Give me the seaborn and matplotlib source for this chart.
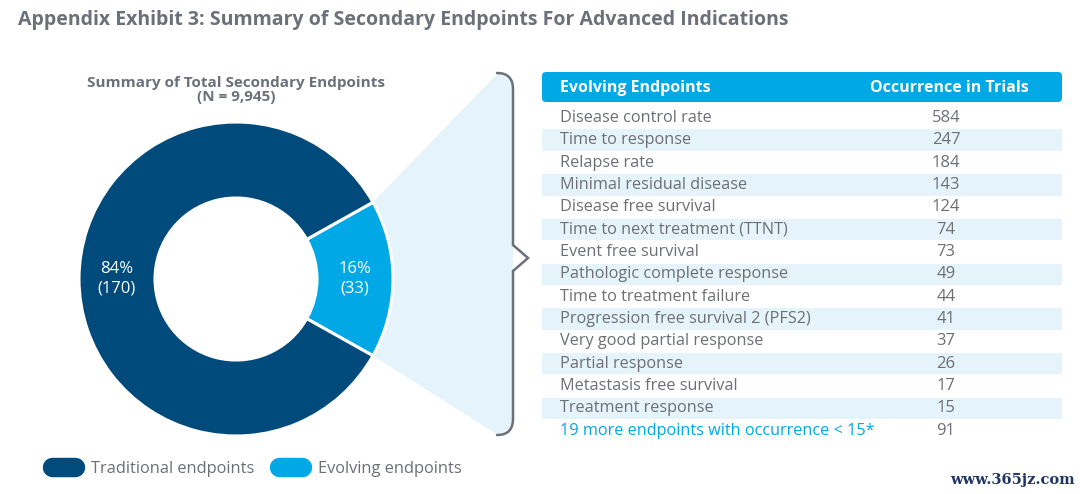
import numpy as np
import matplotlib
matplotlib.use("Agg")
import matplotlib.pyplot as plt
import seaborn as sns
from matplotlib.patches import FancyBboxPatch, Rectangle, Polygon, PathPatch
from matplotlib.path import Path
from matplotlib.lines import Line2D

# ---------------- data ----------------
donut_categories = ["Evolving endpoints", "Traditional endpoints"]
donut_counts = [33, 170]
donut_pcts = ["16%", "84%"]

endpoints = [
    "Disease control rate", "Time to response", "Relapse rate",
    "Minimal residual disease", "Disease free survival",
    "Time to next treatment (TTNT)", "Event free survival",
    "Pathologic complete response", "Time to treatment failure",
    "Progression free survival 2 (PFS2)", "Very good partial response",
    "Partial response", "Metastasis free survival", "Treatment response",
    "19 more endpoints with occurrence < 15*",
]
occurrences = [584, 247, 184, 143, 124, 74, 73, 49, 44, 41, 37, 26, 17, 15, 91]

title = "Appendix Exhibit 3: Summary of Secondary Endpoints For Advanced Indications"
donut_title = "Summary of Total Secondary Endpoints\n(N = 9,945)"
table_headers = ["Evolving Endpoints", "Occurrence in Trials"]
legend_labels = ["Traditional endpoints", "Evolving endpoints"]

# ---------------- style ----------------
sns.set_theme(style="white")
plt.rcParams["font.family"] = ["Open Sans", "DejaVu Sans"]

NAVY = "#004a7c"
BLUE = "#00a9e6"
LIGHT = "#e5f4fb"
GRAY = "#6b7079"
TXT = "#6d6f74"

W, H = 1080, 494
fig = plt.figure(figsize=(W / 100, H / 100), dpi=100)
fig.patch.set_facecolor("white")

# overlay axes in pixel coordinates
ov = fig.add_axes([0, 0, 1, 1])
ov.set_xlim(0, W)
ov.set_ylim(H, 0)
ov.axis("off")

# donut axes
cx, cy, R = 236, 279, 157
axp = fig.add_axes([(cx - R) / W, (H - cy - R) / H, 2 * R / W, 2 * R / H])
axp.set_facecolor("none")
colors = [BLUE, NAVY]
span = donut_counts[0] / sum(donut_counts) * 360
wedges, _ = axp.pie(donut_counts, colors=colors, startangle=-span / 2,
                    counterclock=True, radius=1.0,
                    wedgeprops=dict(width=0.484, edgecolor="white", linewidth=2.2))
axp.set_xlim(-1, 1)
axp.set_ylim(-1, 1)
axp.set_aspect("auto")
axp.axis("off")

# labels in wedges
rmid = 1 - 0.484 / 2
for w, pct, cnt in zip(wedges, donut_pcts, donut_counts):
    ang = np.deg2rad((w.theta1 + w.theta2) / 2)
    axp.text(rmid * np.cos(ang), rmid * np.sin(ang), f"{pct}\n({cnt})",
             ha="center", va="center", color="white", fontsize=12,
             linespacing=1.3)

# connector polygon from evolving wedge to brace
def to_ov(x, y):
    d = axp.transData.transform((x, y))
    return ov.transData.inverted().transform(d)

ev = wedges[0]
p_top = to_ov(np.cos(np.deg2rad(ev.theta2)), np.sin(np.deg2rad(ev.theta2)))
p_bot = to_ov(np.cos(np.deg2rad(ev.theta1)), np.sin(np.deg2rad(ev.theta1)))
bx, btop, bbot, bmid = 513, 73, 435, 258
poly = Polygon([p_top, (498, btop), (bx, btop + 8), (bx, bbot - 8), (498, bbot), p_bot],
               closed=True, facecolor=LIGHT, edgecolor="none", zorder=0)
ov.add_patch(poly)

# brace
verts = [(497, btop), (bx, btop), (bx, btop + 16), (bx, bmid - 13), (bx + 15, bmid),
         (bx, bmid + 13), (bx, bbot - 16), (bx, bbot), (497, bbot)]
codes = [Path.MOVETO, Path.CURVE3, Path.CURVE3, Path.LINETO, Path.LINETO,
         Path.LINETO, Path.LINETO, Path.CURVE3, Path.CURVE3]
ov.add_patch(PathPatch(Path(verts, codes), facecolor="none", edgecolor=GRAY,
                       lw=1.8, capstyle="round", joinstyle="miter", zorder=2))

# title
ov.text(18, 20, title, ha="left", va="center", fontsize=14, fontweight="bold",
        color=GRAY)
ov.text(cx, 89.5, donut_title, ha="center", va="center", fontsize=11,
        fontweight="bold", color=GRAY, linespacing=1.0)

# table
tx0, tx1 = 542, 1062
ov.add_patch(FancyBboxPatch((tx0 + 4, 72 + 4), tx1 - tx0 - 8, 30 - 8,
                            boxstyle="round,pad=4", facecolor=BLUE,
                            edgecolor="none", zorder=1))
ov.text(560, 87.5, table_headers[0], ha="left", va="center", color="white",
        fontsize=11.5, fontweight="bold")
ov.text(949, 87.5, table_headers[1], ha="center", va="center", color="white",
        fontsize=11.5, fontweight="bold")

row0, rh = 117.8, 22.35
for i, (name, val) in enumerate(zip(endpoints, occurrences)):
    yc = row0 + i * rh
    if i % 2 == 1:
        ov.add_patch(Rectangle((tx0, yc - rh / 2 + 0.5), tx1 - tx0, rh - 1,
                               facecolor=LIGHT, edgecolor="none", zorder=0))
    col = BLUE if i == len(endpoints) - 1 else TXT
    ov.text(560, yc, name, ha="left", va="center", color=col, fontsize=11.7)
    ov.text(946, yc, str(val), ha="center", va="center", color=TXT, fontsize=12)

# legend
handles = [Line2D([0], [0], color=NAVY, lw=14, solid_capstyle="round"),
           Line2D([0], [0], color=BLUE, lw=14, solid_capstyle="round")]
fig.legend(handles, legend_labels, loc="center left",
           bbox_to_anchor=(45 / W, 1 - 469 / H), ncol=2, frameon=False,
           handlelength=1.4, handletextpad=1.0, columnspacing=1.5,
           fontsize=11.8, labelcolor=TXT, borderaxespad=0)

# watermark
ov.text(1075, 480, "www.365jz.com", ha="right", va="center", fontsize=10.5,
        fontweight="bold", color="#1f3566", family="DejaVu Serif")

fig.savefig("out.png", dpi=100, facecolor="white")
